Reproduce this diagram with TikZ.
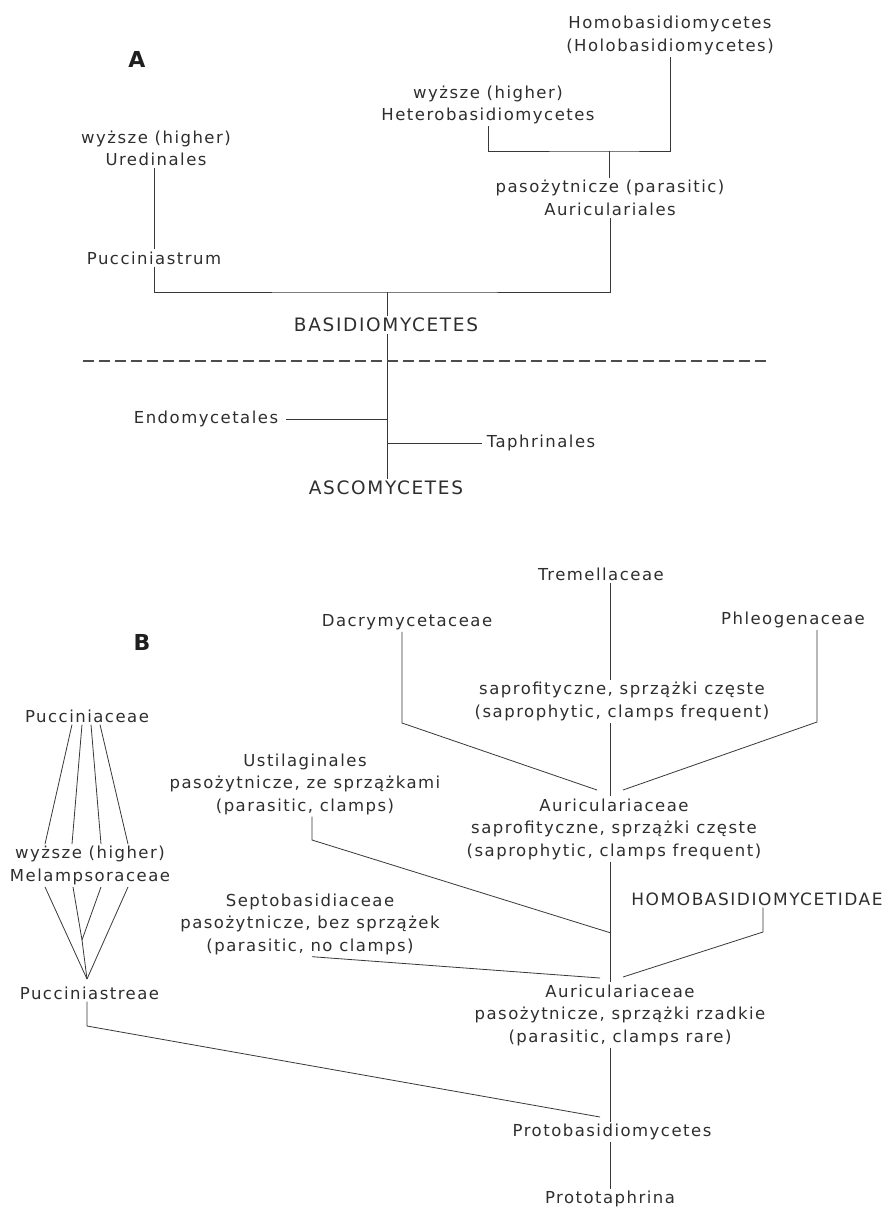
\documentclass[tikz,border=0pt]{standalone}
\usepackage{fontspec}
\setmainfont{DejaVu Sans}
\newfontfamily\lblfont{DejaVu Sans}[LetterSpace=9]
\tikzset{
  lbl/.style={font={\lblfont\fontsize{16.5}{22.5}\selectfont}, text=black!82, align=center, inner sep=2pt},
  caps/.style={font={\lblfont\fontsize{18.5}{22}\selectfont}, text=black!82, inner sep=2pt},
  capsm/.style={font={\lblfont\fontsize{17}{22}\selectfont}, text=black!82, inner sep=2pt},
  big/.style={font={\bfseries\fontsize{22}{26}\selectfont}, text=black!88, inner sep=0pt},
  ln/.style={draw=black!78, line width=0.8pt},
  dashln/.style={draw=black!70, line width=1.6pt, dash pattern=on 11pt off 5pt},
}
\begin{document}
\begin{tikzpicture}[x=1pt,y=-1pt]
\fill[white] (0,0) rectangle (887,1210);
\path[use as bounding box] (0,0) rectangle (887,1210);

% ---------------- Part A ----------------
\node[big] (labA) at (137,59) {A};
\node[lbl] (highU) at (156,148.5) {wyższe (higher)\\Uredinales};
\node[lbl] (pucA) at (154,258) {Pucciniastrum};
\node[lbl] (homo) at (670,35.5) {Homobasidiomycetes\\(Holobasidiomycetes)};
\node[lbl] (hetero) at (488,105) {wyższe (higher)\\Heterobasidiomycetes};
\node[lbl] (aurA) at (610,198) {pasożytnicze (parasitic)\\Auriculariales};
\node[caps] (basid) at (386,325) {BASIDIOMYCETES};
\node[lbl] (endo) at (206,419) {Endomycetales};
\node[lbl] (taph) at (541,443) {Taphrinales};
\node[caps] (asco) at (386,488) {ASCOMYCETES};

\coordinate (jA) at (387,292);
\coordinate (jH) at (609,151);
\coordinate (dL) at (83,361);
\coordinate (dR) at (768,361);

\draw[ln] (highU.south -| pucA) -- (pucA.north);
\draw[ln] (pucA.south) |- (jA) -| (aurA.south);
\draw[ln] (jA) -- (jA |- basid.north);
\draw[ln] (aurA.north -| jH) -- (jH);
\draw[ln] (hetero.south) |- (jH) -| (homo.south);
\draw[ln] (jA |- basid.south) -- (jA |- asco.north);
\draw[ln,shorten <=6pt] (endo.east) -- (endo.east -| jA);
\draw[ln,shorten >=3pt] (taph.west -| jA) -- (taph.west);
\draw[dashln] (dL) -- (dR);

% ---------------- Part B ----------------
\node[big] (labB) at (142,642) {B};
\node[lbl] (dacry) at (407,622) {Dacrymycetaceae};
\node[lbl] (trem) at (601,574) {Tremellaceae};
\node[lbl] (phleo) at (793,620) {Phleogenaceae};
\node[lbl] (sap1) at (622,701.5) {saprofityczne, sprzążki częste\\(saprophytic, clamps frequent)};
\node[lbl] (aur1) at (614,829) {Auriculariaceae\\saprofityczne, sprzążki częste\\(saprophytic, clamps frequent)};
\node[lbl] (ustil) at (305,784) {Ustilaginales\\pasożytnicze, ze sprzążkami\\(parasitic, clamps)};
\node[lbl] (puccB) at (87,716) {Pucciniaceae};
\node[lbl] (melamp) at (90,865.5) {wyższe (higher)\\Melampsoraceae};
\node[lbl] (pastr) at (89.5,993) {Pucciniastreae};
\node[lbl] (septo) at (310,924) {Septobasidiaceae\\pasożytnicze, bez sprzążek\\(parasitic, no clamps)};
\node[capsm] (homoB) at (757,899) {HOMOBASIDIOMYCETIDAE};
\node[lbl] (aur2) at (620,1015) {Auriculariaceae\\pasożytnicze, sprzążki rzadkie\\(parasitic, clamps rare)};
\node[lbl] (proto) at (612,1132) {Protobasidiomycetes};
\node[lbl] (ptaph) at (610,1199) {Prototaphrina};

\coordinate (cB) at (610,790);
\coordinate (dk) at (402,723);
\coordinate (pk) at (817,722);
\coordinate (aL) at (597,790);
\coordinate (aR) at (623,790);
\coordinate (us) at (312,840);
\coordinate (uj) at (611,933);
\coordinate (sp) at (312,956);
\coordinate (sj) at (600,978);
\coordinate (hb) at (763,932);
\coordinate (hj) at (623,977);
\coordinate (mJ) at (82,940);
\coordinate (mA) at (87,979);
\coordinate (pk2) at (87,1026);
\coordinate (pj) at (600,1117);

% trunk
\draw[ln] (trem.south -| cB) -- (sap1.north -| cB);
\draw[ln] (sap1.south -| cB) -- (aur1.north -| cB);
\draw[ln] (aur1.south -| cB) -- (aur2.north -| cB);
\draw[ln] (aur2.south -| cB) -- (proto.north -| cB);
\draw[ln] (proto.south -| cB) -- (ptaph.north -| cB);
% side branches
\draw[ln] (dacry.south -| dk) -- (dk) -- (aL);
\draw[ln] (phleo.south -| pk) -- (pk) -- (aR);
\draw[ln] (ustil.south -| us) -- (us) -- (uj);
\draw[ln] (septo.south -| sp) -- (sj);
\draw[ln] (homoB.south -| hb) -- (hb) -- (hj);
\draw[ln] (pastr.south -| pk2) -- (pk2) -- (pj);
% rust fans
\draw[ln] ([xshift=-15]puccB.south) -- ([xshift=-45]melamp.north);
\draw[ln] ([xshift=-5]puccB.south) -- ([xshift=-18]melamp.north);
\draw[ln] ([xshift=4]puccB.south) -- ([xshift=11]melamp.north);
\draw[ln] ([xshift=13]puccB.south) -- ([xshift=38]melamp.north);
\draw[ln] ([xshift=-45]melamp.south) -- (mA);
\draw[ln] ([xshift=-17]melamp.south) -- (mJ);
\draw[ln] ([xshift=11]melamp.south) -- (mJ);
\draw[ln] (mJ) -- (mA);
\draw[ln] ([xshift=38]melamp.south) -- (mA);
\end{tikzpicture}
\end{document}
